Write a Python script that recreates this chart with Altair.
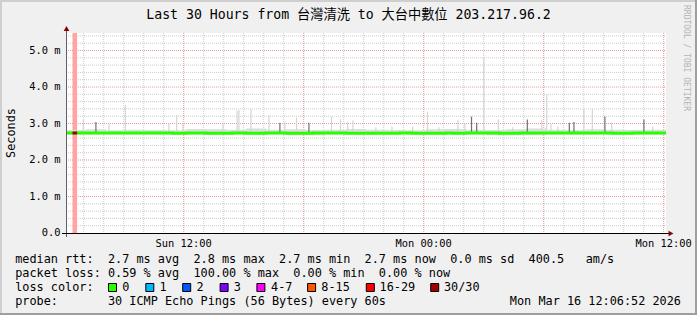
import altair as alt
import pandas as pd

# ---------------- data ----------------
START_H = 6 + 6 / 60 + 52 / 3600          # Sun 06:06:52, hours since Sun 00:00
END_H = START_H + 30                       # Mon 12:06:52

# median rtt (ms), one sample every 20 minutes from START_H
median_ms = [
    2.74, 2.74, 2.74, 2.74, 2.74, 2.74, 2.74, 2.74, 2.74, 2.74,
    2.74, 2.74, 2.74, 2.74, 2.74, 2.74, 2.73, 2.73, 2.74, 2.74,
    2.74, 2.73, 2.73, 2.73, 2.73, 2.74, 2.74, 2.73, 2.73, 2.73,
    2.74, 2.74, 2.74, 2.73, 2.73, 2.73, 2.73, 2.74, 2.74, 2.74,
    2.74, 2.74, 2.73, 2.73, 2.73, 2.73, 2.73, 2.73, 2.73, 2.73,
    2.74, 2.74, 2.73, 2.73, 2.73, 2.73, 2.73, 2.74, 2.73, 2.73,
    2.74, 2.74, 2.74, 2.74, 2.74, 2.73, 2.73, 2.73, 2.74, 2.74,
    2.74, 2.74, 2.74, 2.74, 2.74, 2.74, 2.74, 2.74, 2.74, 2.74,
    2.74, 2.74, 2.73, 2.73, 2.73, 2.74, 2.74, 2.74, 2.74, 2.74,
    2.74,
]

# background smoke band (ms), hourly from START_H
smoke_hi_ms = [2.82, 2.84, 2.81, 2.83, 2.82, 2.81, 2.85, 2.84, 2.83, 2.86,
               2.83, 2.84, 2.82, 2.83, 2.85, 2.83, 2.82, 2.81, 2.84, 2.85,
               2.83, 2.82, 2.84, 2.86, 2.83, 2.82, 2.84, 2.83, 2.82, 2.83,
               2.83]
smoke_lo_ms = [2.70, 2.70, 2.70, 2.70, 2.70, 2.70, 2.70, 2.70, 2.70, 2.70,
               2.70, 2.68, 2.68, 2.70, 2.70, 2.70, 2.70, 2.70, 2.70, 2.70,
               2.70, 2.68, 2.68, 2.68, 2.70, 2.70, 2.70, 2.70, 2.70, 2.70,
               2.70]

# smoke spikes: time (hours since Sun 00:00), top (ms), shade
spike_hours = [6.98, 7.61, 8.26, 9.08, 11.26, 11.65, 11.96, 13.96, 14.67, 14.76,
               15.36, 16.26, 16.81, 17.06, 17.64, 18.26, 19.39, 19.84, 20.20, 20.46,
               21.61, 22.41, 23.45, 24.19, 24.76, 25.71, 26.06, 26.39, 26.65, 27.01,
               27.73, 28.45, 29.18, 29.90, 30.15, 30.36, 30.71, 31.28, 31.51, 32.01,
               32.43, 33.06, 33.40, 35.01, 35.45]
spike_top_ms = [3.11, 3.04, 3.02, 3.51, 3.00, 3.23, 3.00, 2.98, 3.35, 3.37,
                3.40, 3.23, 3.02, 3.05, 3.16, 3.02, 3.19, 3.13, 3.05, 3.08,
                2.90, 2.92, 2.92, 3.32, 2.90, 3.10, 3.00, 3.19, 3.02, 4.79,
                3.11, 2.90, 3.11, 3.10, 3.80, 3.00, 2.92, 3.02, 3.04, 3.39,
                3.39, 3.19, 3.02, 3.11, 2.92]
spike_shade = ["light", "dark", "light", "light", "light", "light", "light", "light", "light", "light",
               "light", "light", "dark", "light", "light", "dark", "light", "light", "light", "light",
               "light", "light", "light", "light", "light", "light", "light", "dark", "dark", "light",
               "light", "light", "dark", "light", "light", "light", "light", "dark", "dark", "light",
               "light", "dark", "light", "dark", "light"]
spike_base_ms = 2.77

# 100% loss period
loss_start_h = [6.44]
loss_end_h = [6.67]
loss_median_ms = [2.74]

# axis ticks / grid
x_minor_hours = list(range(7, 37))
x_major_hours = [12, 18, 24, 30, 36]
x_label_hours = [12, 24, 36]
x_labels = ["Sun 12:00", "Mon 00:00", "Mon 12:00"]
y_minor_ms = [round(i * 0.2, 1) for i in range(1, 28)]
y_major_ms = [1, 2, 3, 4, 5]
y_label_ms = [0, 1, 2, 3, 4, 5]
y_labels = ["0.0", "1.0 m", "2.0 m", "3.0 m", "4.0 m", "5.0 m"]

# texts
title_text = "Last 30 Hours from 台灣清洗 to 大台中數位 203.217.96.2"
y_title = "Seconds"
legend_lines = [
    "median rtt:  2.7 ms avg  2.8 ms max  2.7 ms min  2.7 ms now  0.0 ms sd  400.5   am/s",
    "packet loss: 0.59 % avg  100.00 % max  0.00 % min  0.00 % now",
    "loss color:",
    "probe:       30 ICMP Echo Pings (56 Bytes) every 60s",
]
date_text = "Mon Mar 16 12:06:52 2026"
loss_labels = ["0", "1", "2", "3", "4-7", "8-15", "16-29", "30/30"]
loss_colors = ["#26ff00", "#00b8ff", "#0059ff", "#7e00ff", "#ff00ff", "#ff5500", "#ff0000", "#a10000"]
watermark = "RRDTOOL / TOBI OETIKER"

# ---------------- layout ----------------
PL, PT, W, H = 66, 33, 600, 200
MONO = "DejaVu Sans Mono, Noto Sans CJK TC"
LEG_FS = 11.85
AX_FS = 10.4
swatch_px = [108, 145.3, 182.2, 219.6, 256.4, 307.1, 365.8, 430.2]
label_px = [122.2, 159.5, 196.4, 233.7, 271.1, 321.3, 379.5, 443.9]
line_y = [259, 273, 287, 301]

MAJOR = "#e39a9a"
MINOR = "#cccccc"
DASH = [1, 1]

xs = alt.Scale(domain=[START_H, END_H], nice=False, zero=False)
ys = alt.Scale(domain=[0, 5.48], nice=False, zero=False)

smoke_df = pd.DataFrame({"h": [START_H + i for i in range(len(smoke_hi_ms))],
                         "hi": smoke_hi_ms, "lo": smoke_lo_ms})
median_df = pd.DataFrame({"h": [START_H + i / 3 for i in range(len(median_ms))], "ms": median_ms})
spike_df = pd.DataFrame({"h": spike_hours, "top": spike_top_ms,
                         "base": [spike_base_ms] * len(spike_hours), "shade": spike_shade})
loss_df = pd.DataFrame({"s": loss_start_h, "e": loss_end_h, "m": loss_median_ms})
one = pd.DataFrame({"a": [0]})


def X(f):
    return alt.X(f, scale=xs, axis=None)


def Y(f):
    return alt.Y(f, scale=ys, axis=None)


layers = []

# grid
minor_x = [h for h in x_minor_hours if h not in x_major_hours]
minor_y = [v for v in y_minor_ms if abs(v - round(v)) > 0.01]
layers.append(alt.Chart(pd.DataFrame({"h": minor_x})).mark_rule(
    color=MINOR, strokeDash=DASH, strokeWidth=1).encode(x=X("h:Q"), y=alt.value(0), y2=alt.value(H)))
layers.append(alt.Chart(pd.DataFrame({"v": minor_y})).mark_rule(
    color=MINOR, strokeDash=DASH, strokeWidth=1).encode(y=Y("v:Q"), x=alt.value(0), x2=alt.value(W)))
layers.append(alt.Chart(pd.DataFrame({"h": x_major_hours})).mark_rule(
    color=MAJOR, strokeDash=DASH, strokeWidth=1).encode(x=X("h:Q"), y=alt.value(0), y2=alt.value(H)))
layers.append(alt.Chart(pd.DataFrame({"v": y_major_ms})).mark_rule(
    color=MAJOR, strokeDash=DASH, strokeWidth=1).encode(y=Y("v:Q"), x=alt.value(0), x2=alt.value(W)))

# loss band
layers.append(alt.Chart(loss_df).mark_rect(color="#ffa3a3", clip=True).encode(
    x=X("s:Q"), x2="e:Q", y=alt.value(0), y2=alt.value(H)))

# smoke band
layers.append(alt.Chart(smoke_df).mark_area(interpolate="step-after", color="#dcdcdc", clip=True).encode(
    x=X("h:Q"), y=Y("hi:Q"), y2="lo:Q"))

# spikes
layers.append(alt.Chart(spike_df).mark_rule(strokeWidth=1.2, clip=True).encode(
    x=X("h:Q"), y=Y("top:Q"), y2="base:Q",
    color=alt.Color("shade:N", scale=alt.Scale(domain=["light", "dark"], range=["#d4d4d4", "#707070"]),
                    legend=None),
))

# median line
layers.append(alt.Chart(median_df).mark_line(interpolate="step-after", strokeWidth=3, color="#26ff00",
                                             clip=True).encode(x=X("h:Q"), y=Y("ms:Q")))

# median during loss
layers.append(alt.Chart(loss_df).mark_rule(strokeWidth=3, color="#a10000", clip=True).encode(
    x=X("s:Q"), x2="e:Q", y=Y("m:Q")))

# tick labels
layers.append(alt.Chart(pd.DataFrame({"h": x_label_hours, "t": x_labels})).mark_text(
    font=MONO, fontSize=AX_FS, align="center", baseline="middle", color="#000000").encode(
    x=X("h:Q"), y=alt.value(H + 10.8), text="t:N"))
layers.append(alt.Chart(pd.DataFrame({"v": y_label_ms, "t": y_labels})).mark_text(
    font=MONO, fontSize=AX_FS, align="right", baseline="middle", color="#000000").encode(
    y=Y("v:Q"), x=alt.value(-5.5), text="t:N"))

# axis lines and arrows
layers.append(alt.Chart(one).mark_rule(color="#606060", strokeWidth=1).encode(
    x=alt.value(0.5), y=alt.value(-6), y2=alt.value(H + 4)))
layers.append(alt.Chart(one).mark_rule(color="#000000", strokeWidth=1).encode(
    x=alt.value(-4), x2=alt.value(W + 3), y=alt.value(H + 0.5)))
layers.append(alt.Chart(one).mark_point(shape="triangle-up", filled=True, size=32, color="#8b0000",
                                        opacity=1).encode(x=alt.value(0.5), y=alt.value(-4.5)))
layers.append(alt.Chart(one).mark_point(shape="triangle-right", filled=True, size=32, color="#8b0000",
                                        opacity=1).encode(x=alt.value(W + 5), y=alt.value(H + 0.5)))


# frame borders
def rect(x1, x2, y1, y2, c):
    return alt.Chart(one).mark_rect(color=c).encode(
        x=alt.value(x1 - PL), x2=alt.value(x2 - PL), y=alt.value(y1 - PT), y2=alt.value(y2 - PT))


layers.append(rect(0, 697, 0, 2, "#cfcfcf"))
layers.append(rect(0, 2, 0, 315, "#cfcfcf"))
layers.append(rect(695, 697, 0, 315, "#9e9e9e"))
layers.append(rect(0, 697, 313, 315, "#9e9e9e"))


def text(s, x, y, size, align="left", angle=0, color="#000000", font=MONO):
    return alt.Chart(one).mark_text(
        text=s.replace(" ", "\u00a0"), font=font, fontSize=size, align=align, baseline="middle",
        angle=angle, color=color).encode(x=alt.value(x - PL), y=alt.value(y - PT))


layers.append(text(title_text, 348.5, 14.7, 13.2, align="center"))
layers.append(text(y_title, 10.5, 133, LEG_FS, align="center", angle=270))
layers.append(text(watermark, 686, 5, 8, align="left", angle=90, color="#b4b4b4"))
for s, yy in zip(legend_lines, line_y):
    layers.append(text(s, 15.2, yy, LEG_FS))
layers.append(text(date_text, 681, line_y[3], LEG_FS, align="right"))

for sx, lx, lab, col in zip(swatch_px, label_px, loss_labels, loss_colors):
    layers.append(alt.Chart(one).mark_rect(color=col, stroke="#000000", strokeWidth=1).encode(
        x=alt.value(sx - PL + 0.5), x2=alt.value(sx - PL + 8.5),
        y=alt.value(283.5 - PT), y2=alt.value(291.5 - PT)))
    layers.append(text(lab, lx, line_y[2], LEG_FS))

chart = alt.layer(*layers).properties(
    width=W, height=H,
    autosize=alt.AutoSizeParams(type="none"),
    padding={"left": PL, "top": PT, "right": 697 - PL - W, "bottom": 315 - PT - H},
).configure(background="#f0f0f0").configure_view(fill="white", strokeWidth=0)

chart.save("out.html", embed_options={"renderer": "svg", "actions": False})
